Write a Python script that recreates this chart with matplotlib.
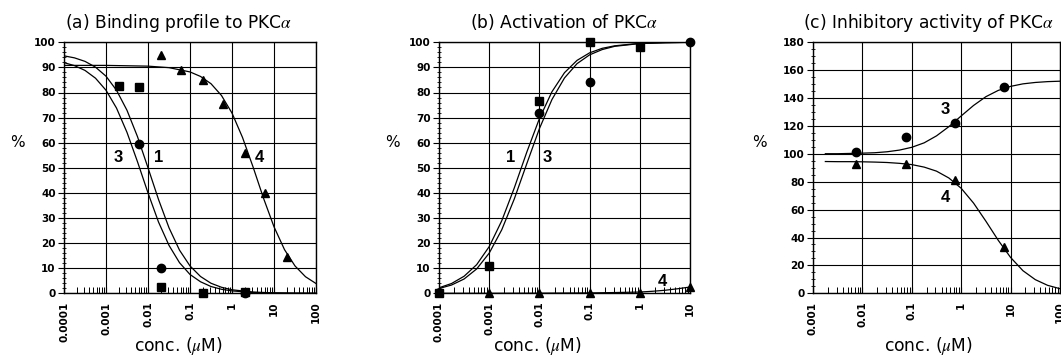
import numpy as np
import matplotlib
matplotlib.use("Agg")
import matplotlib.pyplot as plt
from matplotlib.ticker import LogLocator, MultipleLocator, NullFormatter

# ---------------- data ----------------
# panel (a) Binding profile
a_sq_conc = [0.002, 0.006, 0.02, 0.2, 2]
a_sq_val = [82.6, 82.0, 2.4, 0.3, 0.7]
a_ci_conc = [0.006, 0.02, 2]
a_ci_val = [59.4, 10.2, 0.3]
a_tr_conc = [0.02, 0.06, 0.2, 0.6, 2, 6, 20]
a_tr_val = [95.0, 89.0, 85.0, 75.5, 56.0, 40.0, 14.5]

a_curve_logc = [-4, -3.75, -3.5, -3.25, -3, -2.75, -2.5, -2.25, -2, -1.75, -1.5,
                -1.25, -1, -0.75, -0.5, -0.25, 0, 0.5, 1, 1.5, 2]
a_curve1 = [94.6, 93.8, 92.4, 90.1, 86.5, 80.9, 72.9, 62.4, 50.0, 37.4, 26.1,
            17.2, 10.9, 6.7, 4.0, 2.4, 1.4, 0.5, 0.17, 0.06, 0.02]
a_curve3 = [91.9, 90.7, 88.8, 85.7, 80.9, 73.8, 64.1, 52.4, 40.0, 28.4, 19.1,
            12.2, 7.5, 4.6, 2.7, 1.6, 0.95, 0.33, 0.11, 0.04, 0.01]
a_curve4_logc = [-4, -3, -2, -1.5, -1, -0.75, -0.5, -0.25, 0, 0.25, 0.5, 0.75,
                 1, 1.25, 1.5, 1.75, 2]
a_curve4 = [90.8, 90.8, 90.5, 89.9, 88.2, 86.4, 83.5, 78.8, 71.8, 62.1, 50.4,
            37.9, 26.5, 17.4, 10.9, 6.6, 3.9]

# panel (b) Activation
b_sq_conc = [0.0001, 0.001, 0.01, 0.1, 1]
b_sq_val = [0.3, 10.9, 76.6, 100.0, 98.3]
b_ci_conc = [0.01, 0.1, 10]
b_ci_val = [72.0, 84.3, 100.0]
b_tr_conc = [0.001, 0.01, 0.1, 1, 10]
b_tr_val = [0.0, 0.0, 0.0, 0.0, 2.5]

b_curve_logc = [-4, -3.75, -3.5, -3.25, -3, -2.75, -2.5, -2.25, -2, -1.75, -1.5,
                -1.25, -1, -0.75, -0.5, 0, 0.5, 1]
b_curve1 = [2.2, 3.9, 6.8, 11.4, 18.6, 28.9, 42.0, 56.3, 69.6, 80.3, 87.9,
            92.8, 95.8, 97.6, 98.6, 99.6, 99.9, 100.0]
b_curve3 = [1.9, 3.3, 5.7, 9.7, 16.0, 25.3, 37.6, 51.7, 65.6, 77.2, 85.8,
            91.5, 95.0, 97.1, 98.4, 99.5, 99.8, 100.0]
b_curve4_logc = [-4, -3, -2, -1, -0.5, 0, 0.25, 0.5, 0.75, 1]
b_curve4 = [0.0, 0.0, 0.05, 0.15, 0.3, 0.5, 0.8, 1.2, 1.8, 2.5]

# panel (c) Inhibitory activity
c_ci_conc = [0.0075, 0.075, 0.75, 7.5]
c_ci_val = [101.6, 112.0, 122.4, 148.2]
c_tr_conc = [0.0075, 0.075, 0.75, 7.5]
c_tr_val = [93.0, 92.8, 81.0, 33.0]

c_curve_logc = [-2.75, -2.5, -2.25, -2, -1.75, -1.5, -1.25, -1, -0.75, -0.5,
                -0.25, 0, 0.25, 0.5, 0.75, 1, 1.25, 1.5, 1.75, 2]
c_curve3 = [100.1, 100.1, 100.3, 100.5, 100.8, 101.5, 102.7, 104.7, 107.9,
            112.9, 119.5, 127.2, 134.7, 141.0, 145.5, 148.4, 150.2, 151.2,
            151.8, 152.1]
c_curve4 = [94.5, 94.4, 94.4, 94.3, 94.1, 93.8, 93.2, 92.3, 90.5, 87.6, 82.7,
            75.3, 64.7, 51.7, 38.0, 25.7, 16.2, 9.8, 5.7, 3.3]

titles = ["(a) Binding profile to PKC$\\alpha$",
          "(b) Activation of PKC$\\alpha$",
          "(c) Inhibitory activity of PKC$\\alpha$"]
a_xticks = ["0.0001", "0.001", "0.01", "0.1", "1", "10", "100"]
b_xticks = ["0.0001", "0.001", "0.01", "0.1", "1", "10"]
c_xticks = ["0.001", "0.01", "0.1", "1", "10", "100"]

# ---------------- figure ----------------
W, H = 1061, 358
fig = plt.figure(figsize=(W / 100, H / 100), dpi=100)
fig.patch.set_facecolor("white")
plt.rcParams["mathtext.fontset"] = "stix"

def px_axes(l, r, t, b):
    return fig.add_axes([l / W, (H - b) / H, (r - l) / W, (b - t) / H])

ax_a = px_axes(64, 316, 42.3, 293.3)
ax_b = px_axes(439, 690, 42.3, 293.3)
ax_c = px_axes(813, 1060, 42.3, 293.3)

tickfont = dict(family="DejaVu Sans", weight="bold", size=7.5)

def style(ax, labels, ymax, ystep, yminor, title, title_x, xlabel_x, ylab_x):
    ax.set_xscale("log")
    decs = [float(s) for s in labels]
    ax.set_xlim(decs[0], decs[-1])
    ax.set_ylim(0, ymax)
    ax.set_xticks(decs)
    ax.set_xticklabels(labels, rotation=90, fontdict=tickfont)
    ax.xaxis.set_minor_locator(LogLocator(base=10, subs=range(2, 10), numticks=20))
    ax.xaxis.set_minor_formatter(NullFormatter())
    yt = np.arange(0, ymax + 0.1, ystep)
    ax.set_yticks(yt)
    ax.set_yticklabels([str(int(v)) for v in yt], fontdict=tickfont)
    ax.yaxis.set_minor_locator(MultipleLocator(yminor))
    ax.grid(which="major", color="black", lw=0.8)
    ax.set_axisbelow(True)
    for s in ax.spines.values():
        s.set_linewidth(1.0)
        s.set_color("black")
    ax.tick_params(axis="x", which="major", direction="in", length=4, width=0.8, pad=6)
    ax.tick_params(axis="x", which="minor", direction="in", length=4, width=0.7)
    ax.tick_params(axis="y", which="major", direction="out", length=4, width=0.8, pad=2)
    ax.tick_params(axis="y", which="minor", direction="inout", length=3.5, width=0.6)
    ax.set_title(title, fontsize=12.3, family="DejaVu Sans", x=title_x, y=1.058, pad=0)
    ax.set_xlabel("conc. ($\\mu$M)", fontsize=12.3, family="DejaVu Sans")
    ax.xaxis.set_label_coords(xlabel_x, -0.168)
    ax.text(ylab_x, 0.6, "%", transform=ax.transAxes, fontsize=11,
            family="DejaVu Sans", ha="center", va="center")

style(ax_a, a_xticks, 100, 10, 2, titles[0], 0.456, 0.452, -0.185)
style(ax_b, b_xticks, 100, 10, 2, titles[1], 0.498, 0.39, -0.187)
style(ax_c, c_xticks, 180, 20, 5, titles[2], 0.466, 0.466, -0.215)

lc = dict(color="black", lw=0.9)
mk = dict(color="black", ls="none", clip_on=False, zorder=5)
lab = dict(fontsize=12, weight="bold", family="Liberation Sans", ha="center", va="center")

# (a)
ax_a.plot(10 ** np.array(a_curve_logc), a_curve1, **lc)
ax_a.plot(10 ** np.array(a_curve_logc), a_curve3, **lc)
ax_a.plot(10 ** np.array(a_curve4_logc), a_curve4, **lc)
ax_a.plot(a_sq_conc, a_sq_val, marker="s", ms=6, **mk)
ax_a.plot(a_ci_conc, a_ci_val, marker="o", ms=6, **mk)
ax_a.plot(a_tr_conc, a_tr_val, marker="^", ms=6, **mk)
ax_a.text(0.00193, 54.3, "3", **lab)
ax_a.text(0.0183, 54.3, "1", **lab)
ax_a.text(4.6, 54.3, "4", **lab)

# (b)
ax_b.plot(10 ** np.array(b_curve_logc), b_curve1, **lc)
ax_b.plot(10 ** np.array(b_curve_logc), b_curve3, **lc)
ax_b.plot(10 ** np.array(b_curve4_logc), b_curve4, **lc)
ax_b.plot(b_sq_conc, b_sq_val, marker="s", ms=6, **mk)
ax_b.plot(b_ci_conc, b_ci_val, marker="o", ms=6, **mk)
ax_b.plot(b_tr_conc, b_tr_val, marker="^", ms=6, **mk)
ax_b.text(0.00272, 54.3, "1", **lab)
ax_b.text(0.01416, 54.3, "3", **lab)
ax_b.text(2.77, 4.8, "4", **lab)

# (c)
ax_c.plot(10 ** np.array(c_curve_logc), c_curve3, **lc)
ax_c.plot(10 ** np.array(c_curve_logc), c_curve4, **lc)
ax_c.plot(c_ci_conc, c_ci_val, marker="o", ms=6, **mk)
ax_c.plot(c_tr_conc, c_tr_val, marker="^", ms=6, **mk)
ax_c.text(0.47, 131.5, "3", **lab)
ax_c.text(0.47, 68.4, "4", **lab)

fig.savefig("out.png", dpi=100, facecolor="white")
